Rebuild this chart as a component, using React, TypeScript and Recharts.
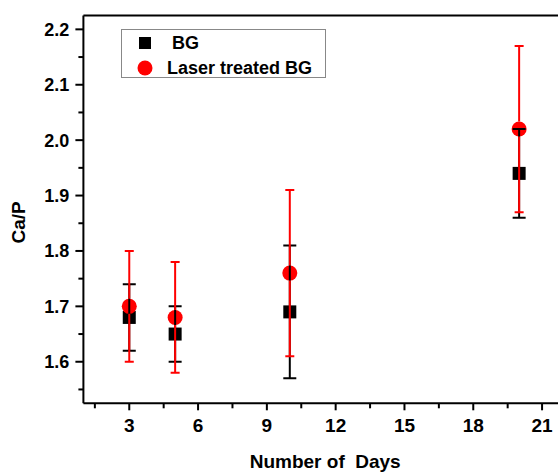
import {
  ScatterChart, Scatter, XAxis, YAxis, Legend, ReferenceLine, useYAxisScale,
} from 'recharts'

// data
const days = [3, 5, 10, 20]
const bgValues = [1.68, 1.65, 1.69, 1.94]
const bgErrors = [0.06, 0.05, 0.12, 0.08]
const laserValues = [1.70, 1.68, 1.76, 2.02]
const laserErrors = [0.10, 0.10, 0.15, 0.15]
const seriesNames = ['BG', 'Laser treated BG']

const xMajorTicks = [3, 6, 9, 12, 15, 18, 21]
const xMinorTicks = [1.5, 4.5, 7.5, 10.5, 13.5, 16.5, 19.5]
const yMajorTicks = [1.6, 1.7, 1.8, 1.9, 2.0, 2.1, 2.2]
const yMinorTicks = [1.55, 1.65, 1.75, 1.85, 1.95, 2.05, 2.15]
const xDomain = [1, 22]
const yDomain = [1.525, 2.225]

const bgData = days.map((d, i) => ({ day: d, value: bgValues[i], err: bgErrors[i] }))
const laserData = days.map((d, i) => ({ day: d, value: laserValues[i], err: laserErrors[i] }))

const FONT = '"Liberation Sans", Arial, sans-serif'
const RED = '#ff0000'
const CIRCLE_R = 7.5

const Square = ({ cx, cy }: any) => <rect x={cx - 6.5} y={cy - 6.5} width={13} height={13} fill="#000" />
const Dot = ({ cx, cy }: any) => <circle cx={cx} cy={cy} r={CIRCLE_R} fill={RED} />

// error bars drawn as scatter shapes so they stack in series order
const BlackBar = ({ cx, payload }: any) => {
  const sy = useYAxisScale() as any
  if (!sy) return null
  const hi = sy(payload.value + payload.err)
  const lo = sy(payload.value - payload.err)
  return (
    <g stroke="#000" strokeWidth={2}>
      <line x1={cx} x2={cx} y1={hi} y2={lo} />
      <line x1={cx - 6.5} x2={cx + 6.5} y1={hi} y2={hi} />
      <line x1={cx - 6.5} x2={cx + 6.5} y1={lo} y2={lo} />
    </g>
  )
}

// red bars leave a gap behind the circle, like Origin does
const RedBar = ({ cx, cy, payload }: any) => {
  const sy = useYAxisScale() as any
  if (!sy) return null
  const hi = sy(payload.value + payload.err)
  const lo = sy(payload.value - payload.err)
  return (
    <g stroke={RED} strokeWidth={2}>
      <line x1={cx} x2={cx} y1={hi} y2={cy - CIRCLE_R} />
      <line x1={cx} x2={cx} y1={cy + CIRCLE_R} y2={lo} />
      <line x1={cx - 4.5} x2={cx + 4.5} y1={hi} y2={hi} />
      <line x1={cx - 4.5} x2={cx + 4.5} y1={lo} y2={lo} />
    </g>
  )
}

const YTick = ({ x, y, payload }: any) => {
  const v = payload.value
  const major = yMajorTicks.some(t => Math.abs(t - v) < 1e-6)
  return (
    <g>
      <line x1={x - (major ? 8 : 5)} x2={x} y1={y} y2={y} stroke="#000" strokeWidth={2} />
      {major && (
        <text x={x - 14} y={y} dy="0.36em" textAnchor="end" fontFamily={FONT} fontWeight="bold" fontSize={18} fill="#000">
          {v.toFixed(1)}
        </text>
      )}
    </g>
  )
}

const XTick = ({ x, y, payload }: any) => {
  const v = payload.value
  const major = xMajorTicks.includes(v)
  return (
    <g>
      <line x1={x} x2={x} y1={y} y2={y + (major ? 7 : 5)} stroke="#000" strokeWidth={2} />
      {major && (
        <text x={x} y={y + 29} textAnchor="middle" fontFamily={FONT} fontWeight="bold" fontSize={19} fill="#000">
          {v}
        </text>
      )}
    </g>
  )
}

const YTitle = ({ viewBox }: any) => {
  const cy = viewBox.y + viewBox.height / 2 + 13
  return (
    <text x={25} y={cy} transform={`rotate(-90, 25, ${cy})`} textAnchor="middle" fontFamily={FONT} fontWeight="bold" fontSize={19} fill="#000">
      Ca/P
    </text>
  )
}

const XTitle = ({ viewBox }: any) => (
  <text x={viewBox.x + viewBox.width / 2 + 1} y={468} textAnchor="middle" fontFamily={FONT} fontWeight="bold" fontSize={19} fill="#000" style={{ whiteSpace: 'pre' }}>
    {'Number of  Days'}
  </text>
)

const LegendBox = () => (
  <div style={{ width: 205, height: 49, border: '1px solid #888', boxSizing: 'border-box', background: '#fff' }}>
    <svg width={203} height={47} style={{ display: 'block' }}>
      <rect x={17} y={7} width={12} height={12} fill="#000" />
      <text x={50} y={19} fontFamily={FONT} fontWeight="bold" fontSize={18} fill="#000">{seriesNames[0]}</text>
      <circle cx={23} cy={38} r={7.5} fill={RED} />
      <text x={45} y={44} fontFamily={FONT} fontWeight="bold" fontSize={18} fill="#000">{seriesNames[1]}</text>
    </svg>
  </div>
)

export default function App() {
  return (
    <div style={{ position: 'fixed', left: 0, top: 0, width: 558, height: 472, overflow: 'hidden', background: '#fff' }}>
      <ScatterChart width={600} height={472} margin={{ top: 15.5, right: 35, bottom: 28.7, left: 13.4 }}>
        <XAxis
          type="number"
          dataKey="day"
          domain={xDomain}
          allowDataOverflow
          ticks={[...xMinorTicks, ...xMajorTicks].sort((a, b) => a - b)}
          interval={0}
          tick={<XTick />}
          tickLine={false}
          tickSize={0}
          tickMargin={0}
          height={40}
          axisLine={{ stroke: '#000', strokeWidth: 2 }}
          label={<XTitle />}
        />
        <YAxis
          type="number"
          dataKey="value"
          domain={yDomain}
          allowDataOverflow
          ticks={[...yMinorTicks, ...yMajorTicks].sort((a, b) => a - b)}
          interval={0}
          tick={<YTick />}
          tickLine={false}
          tickSize={0}
          tickMargin={0}
          width={70}
          axisLine={{ stroke: '#000', strokeWidth: 2 }}
          label={<YTitle />}
        />
        <ReferenceLine y={yDomain[1]} stroke="#000" strokeWidth={2} />
        <ReferenceLine x={xDomain[1]} stroke="#000" strokeWidth={2} />
        <Legend
          content={<LegendBox />}
          layout="horizontal"
          verticalAlign="middle"
          align="center"
          wrapperStyle={{ left: 121, top: 29, width: 205, height: 49 }}
        />
        <Scatter name={seriesNames[0]} data={bgData} shape={<Square />} isAnimationActive={false} />
        <Scatter name={seriesNames[1]} data={laserData} shape={<Dot />} isAnimationActive={false} />
        <Scatter data={bgData} shape={<BlackBar />} legendType="none" isAnimationActive={false} />
        <Scatter data={laserData} shape={<RedBar />} legendType="none" isAnimationActive={false} />
      </ScatterChart>
    </div>
  )
}
